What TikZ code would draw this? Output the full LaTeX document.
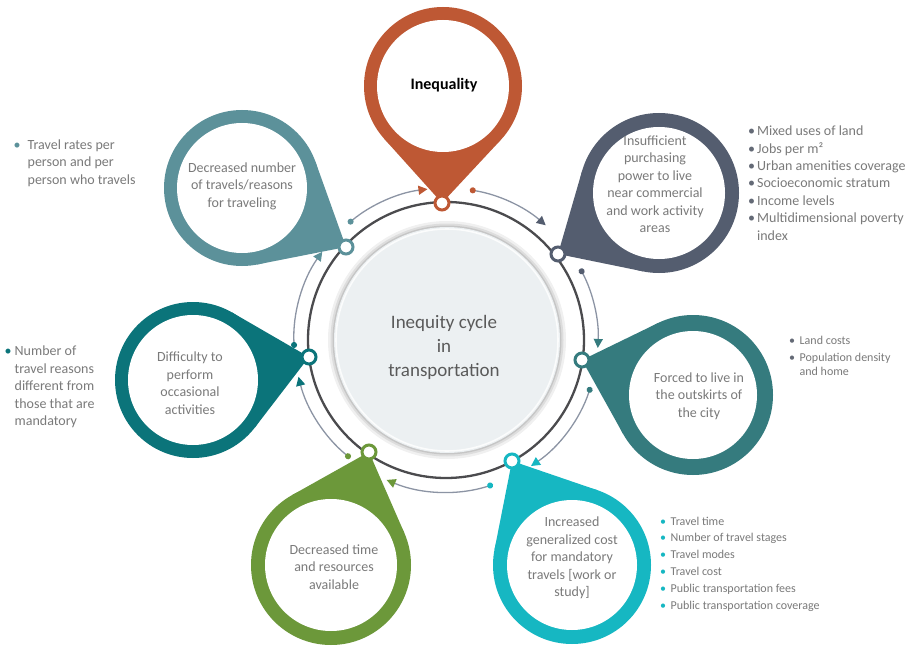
\documentclass[tikz,border=0pt]{standalone}
\usepackage{fontspec}
\setmainfont{Carlito}
\usetikzlibrary{calc,arrows.meta}
\definecolor{orangeC}{RGB}{190,88,52}
\definecolor{slateC}{RGB}{84,93,111}
\definecolor{tealR}{RGB}{53,123,126}
\definecolor{cyanC}{RGB}{22,183,194}
\definecolor{greenC}{RGB}{108,152,58}
\definecolor{tealL}{RGB}{11,116,122}
\definecolor{tealTL}{RGB}{92,145,154}
\definecolor{textgray}{RGB}{122,122,122}
\definecolor{centergray}{RGB}{90,90,90}
\definecolor{arcgray}{RGB}{140,148,164}
\definecolor{diskfill}{RGB}{236,240,242}
\definecolor{ringgray}{RGB}{75,75,78}
\definecolor{bulgray}{RGB}{100,106,118}
% #1 colour, #2 centre name, #3 outer radius, #4 inner radius, #5 tip name
\newcommand\pinshape[5]{%
  \fill[#1] (#2) circle (#3);
  \fill[#1] let \p1=($(#5)-(#2)$), \n1={atan2(\y1,\x1)}, \n2={veclen(\x1,\y1)}, \n3={acos(#3/\n2)} in
    (#5) -- ($(#2)+(\n1+\n3:#3)$) -- ($(#2)+(\n1-\n3:#3)$) -- cycle;
  \fill[white] (#2) circle (#4);
}
\newcommand\bul[1]{\textcolor{#1}{\textbullet}}
\begin{document}
\begin{tikzpicture}[x=1pt,y=1pt,
  pintext/.style={align=center, text=textgray, font=\fontsize{14}{17.5}\selectfont, inner sep=0pt},
  listtext/.style={text=textgray, inner sep=0pt, anchor=base west},
  ringdot/.style={circle, fill=white, line width=3pt, minimum size=14pt, inner sep=0pt},
  arcline/.style={draw=arcgray, line width=1.3pt},
]
\useasboundingbox (0,0) rectangle (924,-658);
\fill[white] (0,0) rectangle (924,-658);

\coordinate (O) at (446,-340);
\coordinate (D) at (447,-340);

% ring
\draw[ringgray, line width=2.3pt] (O) circle (138);

% centre disk
\fill[black, opacity=0.06] (D) circle (119);
\fill[black, opacity=0.08] (D) circle (116.5);
\fill[black, opacity=0.10] (D) circle (114.5);
\fill[diskfill] (D) circle (113);
\draw[white, line width=1.6pt, opacity=0.8] (D) circle (111);
\node[align=center, text=centergray, font=\fontsize{19}{24}\selectfont, inner sep=0pt] (ctr) at (444,-347) {Inequity cycle\\in\\transportation};

% arcs with dots and heads
\coordinate (a1s) at ([shift={(O)}]130:152);
\coordinate (a2s) at ([shift={(O)}]81:152);
\coordinate (a3s) at ([shift={(O)}]28:152);
\coordinate (a4s) at ([shift={(O)}]-18:152);
\coordinate (a5s) at ([shift={(O)}]-72:152);
\coordinate (a6s) at ([shift={(O)}]231:152);
\coordinate (a7s) at ([shift={(O)}]183:152);
\draw[arcline, {Circle[length=6pt,color=tealTL]}-{Triangle[length=9pt,width=9pt,color=orangeC]}] (a1s) arc[start angle=130, end angle=97, radius=152];
\draw[arcline, {Circle[length=6pt,color=orangeC]}-{Triangle[length=9pt,width=9pt,color=slateC]}] (a2s) arc[start angle=81, end angle=49, radius=152];
\draw[arcline, {Circle[length=6pt,color=slateC]}-{Triangle[length=9pt,width=9pt,color=tealR]}] (a3s) arc[start angle=28, end angle=-3, radius=152];
\draw[arcline, {Circle[length=6pt,color=tealR]}-{Triangle[length=9pt,width=9pt,color=cyanC]}] (a4s) arc[start angle=-18, end angle=-56, radius=152];
\draw[arcline, {Circle[length=6pt,color=cyanC]}-{Triangle[length=9pt,width=9pt,color=greenC]}] (a5s) arc[start angle=-72, end angle=-113, radius=152];
\draw[arcline, {Circle[length=6pt,color=greenC]}-{Triangle[length=9pt,width=9pt,color=tealL]}] (a6s) arc[start angle=231, end angle=194, radius=152];
\draw[arcline, {Circle[length=6pt,color=tealL]}-{Triangle[length=9pt,width=9pt,color=tealTL]}] (a7s) arc[start angle=183, end angle=144.5, radius=152];

% pin centres and tips
\coordinate (c1) at (443,-86);
\coordinate (c2) at (659,-193);
\coordinate (c3) at (693,-395);
\coordinate (c4) at (572,-565);
\coordinate (c5) at (331,-565);
\coordinate (c6) at (193,-380);
\coordinate (c7) at (242,-188);
\coordinate (s1c) at (442,-203);
\coordinate (s2c) at (558,-254);
\coordinate (s3c) at (582,-360);
\coordinate (s4c) at (512,-461);
\coordinate (s5c) at (369,-452);
\coordinate (s6c) at (309,-357);
\coordinate (s7c) at (346,-247);

\pinshape{orangeC}{c1}{79}{66}{s1c}
\pinshape{slateC}{c2}{80}{66}{s2c}
\pinshape{tealR}{c3}{80}{64}{s3c}
\pinshape{cyanC}{c4}{79}{65}{s4c}
\pinshape{greenC}{c5}{80}{66}{s5c}
\pinshape{tealL}{c6}{78}{65}{s6c}
\pinshape{tealTL}{c7}{78}{65}{s7c}

\node[ringdot, draw=orangeC] (s1) at (s1c) {};
\node[ringdot, draw=slateC] (s2) at (s2c) {};
\node[ringdot, draw=tealR] (s3) at (s3c) {};
\node[ringdot, draw=cyanC] (s4) at (s4c) {};
\node[ringdot, draw=greenC] (s5) at (s5c) {};
\node[ringdot, draw=tealL] (s6) at (s6c) {};
\node[ringdot, draw=tealTL] (s7) at (s7c) {};

% pin texts
\node[inner sep=0pt, font=\fontsize{16}{19}\selectfont\bfseries] (t1) at (444,-85) {Inequality};
\node[pintext] (t2) at (655,-184) {Insufficient\\purchasing\\power to live\\near commercial\\and work activity\\areas};
\node[pintext] (t3) at (699,-396) {Forced to live in\\the outskirts of\\the city};
\node[pintext] (t4) at (572,-558) {Increased\\generalized cost\\for mandatory\\travels [work or\\study]};
\node[pintext] (t5) at (334,-567) {Decreased time\\and resources\\available};
\node[pintext] (t6) at (190,-383) {Difficulty to\\perform\\occasional\\activities};
\node[pintext] (t7) at (242,-186) {Decreased number\\of travels/reasons\\for traveling};

% bullet lists
\node[listtext, font=\fontsize{14}{17.5}\selectfont] (l2) at (748,-135.5) {\begin{tabular}[t]{@{}c@{\hspace{2pt}}l@{}}
\bul{bulgray} & Mixed uses of land\\
\bul{bulgray} & Jobs per m²\\
\bul{bulgray} & Urban amenities coverage\\
\bul{bulgray} & Socioeconomic stratum\\
\bul{bulgray} & Income levels\\
\bul{bulgray} & Multidimensional poverty\\
 & index
\end{tabular}};
\node[listtext, font=\fontsize{12}{14}\selectfont] (l3) at (789,-344) {\begin{tabular}[t]{@{}c@{\hspace{4.5pt}}l@{}}
\bul{bulgray} & Land costs\\[3pt]
\bul{bulgray} & Population density\\
 & and home
\end{tabular}};
\node[listtext, font=\fontsize{12}{16.8}\selectfont] (l4) at (660,-525) {\begin{tabular}[t]{@{}c@{\hspace{4.5pt}}l@{}}
\bul{cyanC} & Travel time\\
\bul{cyanC} & Number of travel stages\\
\bul{cyanC} & Travel modes\\
\bul{cyanC} & Travel cost\\
\bul{cyanC} & Public transportation fees\\
\bul{cyanC} & Public transportation coverage
\end{tabular}};
\node[listtext, font=\fontsize{14}{17.5}\selectfont] (l6) at (4.5,-355.5) {\begin{tabular}[t]{@{}c@{\hspace{3pt}}l@{}}
\bul{tealL} & Number of\\
 & travel reasons\\
 & different from\\
 & those that are\\
 & mandatory
\end{tabular}};
\node[listtext, font=\fontsize{14}{17.5}\selectfont] (l7) at (13.5,-149.5) {\begin{tabular}[t]{@{}c@{\hspace{7pt}}l@{}}
\bul{tealTL} & Travel rates per\\
 & person and per\\
 & person who travels
\end{tabular}};
\end{tikzpicture}
\end{document}
